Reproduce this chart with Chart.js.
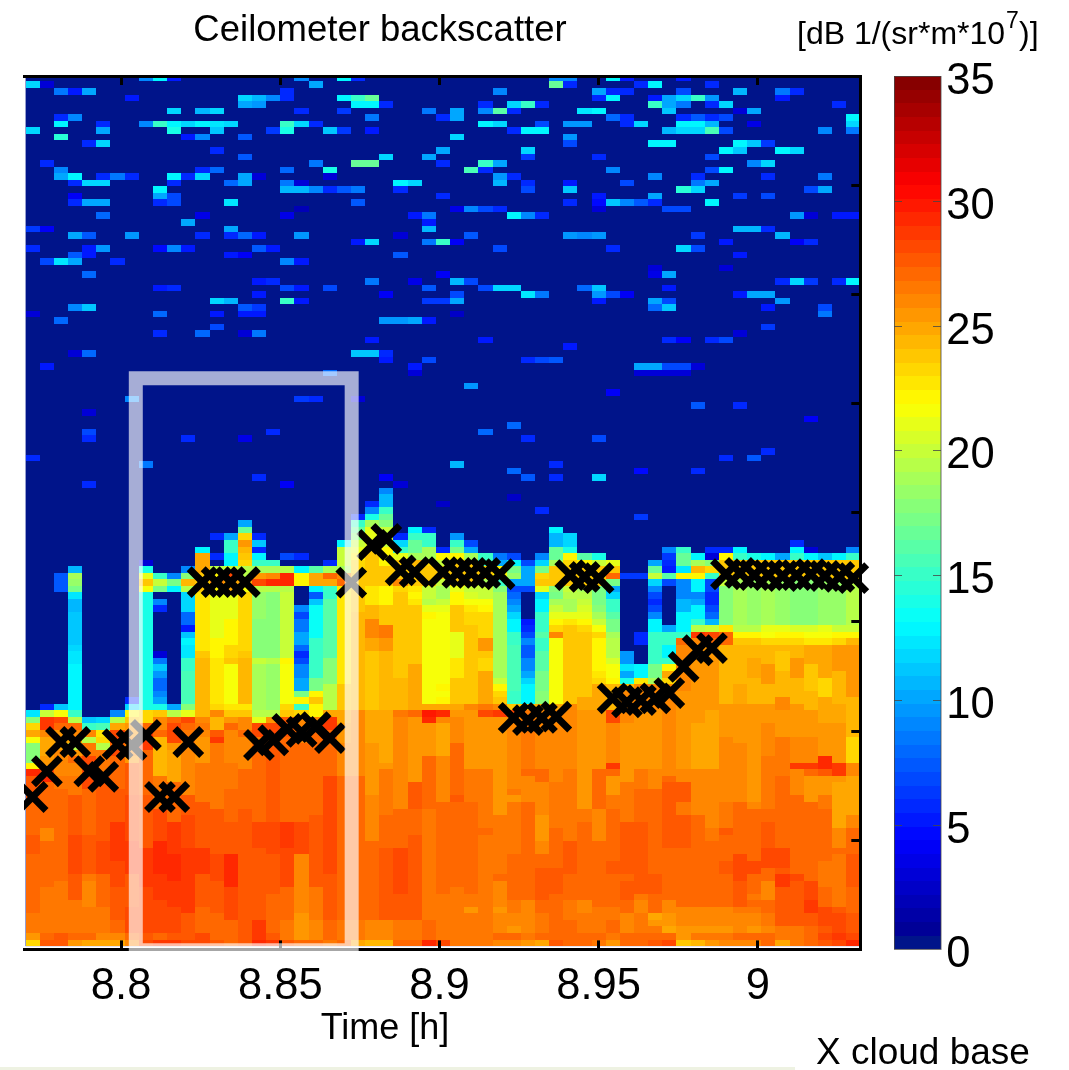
<!DOCTYPE html>
<html>

<head>
    <title>Ceilometer backscatter</title>
    <style>
        body { margin: 0; background: #fff; }
        canvas { display: block; }
    </style>
</head>

<body>
    <canvas id="myChart" width="1069" height="1070"></canvas>
    <script src="https://cdn.jsdelivr.net/npm/chart.js@4"></script>

    <script type="text/javascript">
        // gate / time layout of the ceilometer image
        const firstCellTime = 8.77;
        const cellHours = 16 / 3600;
        const rowMetres = 15;

        const xTickValues = [8.8, 8.85, 8.9, 8.95, 9];
        const xTickLabels = ['8.8', '8.85', '8.9', '8.95', '9'];
        const colorTicks = [0, 5, 10, 15, 20, 25, 30, 35];

        // one list per time column, bottom to top: value, last row it reaches, value, last row ...
        const columnRuns = [
            [23.5,0,25.5,1,26.5,4,27,13,27.5,16,27,21,27.5,25,29,26,22,27,18,30,21.5,31,25,32,23,33,18,34,12.5,35],
            [27.5,0,27,1,26.5,8,27,15,26,17,27,24,29,25,28,26,25.5,28,25,31,26,32,28.5,34,20,35,6,36],
            [27.5,1,26.3,3,26.5,9,27,16,27.3,23,26.5,25,26,29,25,31,25.5,32,27,33,28,34,21.5,35,11,36,0,53,7.5,56],
            [25.5,0,27,1,26.5,6,27.5,10,28,16,27.5,22,26.5,25,26,27,27,28,25.5,29,19.5,30,25,31,26,32,27,33,19.5,34,15,35,13,42,12.5,44,11.5,45,11,50,10.5,52,12.5,53,17,54,18.5,55,19,56,10.5,57],
            [25,0,27,1,26.5,5,26,9,26.5,10,27.5,16,27,23,28,28,26.5,30,19.5,31,26,32,15,33,11,34],
            [25,0,26,1,26.5,5,27,10,28,15,27.5,25,26.5,29,19.5,30,23,31,22.5,32,15.5,33,11.5,34],
            [25,0,26,1,27,3,27.5,8,28,12,28.5,18,27.5,23,27,28,28,29,27,30,28,32,25,33,19.5,34,9,35],
            [26,0,27,1,28,5,27.5,10,28.5,15,28,22,27.5,27,25.5,28,26,31,25.5,33,24,34,22,35,12,36,6,37],
            [28,0,27.5,1,28,8,28.5,14,27.5,22,27,29,28.5,32,27,33,23,35,14,53,21.5,54,24,55,21,56,14,57,3,58],
            [28.5,0,27,1,28,6,28.5,10,29,15,28,20,26.5,25,24.3,31,27,32,26,34,24,35,14,36,10,37,9,38,8,40,9.5,41,11,42,8.5,43,3,44,0,50,6,51,9,52,0,53,17,54,20,55,15,56],
            [28.5,0,27.5,1,28,5,28.5,9,29.5,13,28.5,18,27,24,25,29,25.5,30,28,33,27,34,19.5,35,10,36,0,53,13,54,17,55,9,56],
            [28,0,27.5,4,28.5,14,28,19,27.5,22,26,30,26.5,32,27,33,28,34,21,35,18,36,15.5,41,15,43,12.5,45,13,46,11,47,5,48,8,50,12,52,11.5,53,19.5,54,24.5,55,18,56,9,57],
            [28,1,27,5,27.5,10,28.5,14,27.5,21,26.5,27,25.5,31,26,32,26.5,33,26,34,24.5,43,24,44,22.5,53,24,56,25,59,13,60],
            [27.5,0,27,4,27.5,9,28,13,27.5,20,26.5,30,28.5,31,27.5,32,24.5,34,26,35,23,36,22.5,43,22,46,21,53,22,54,26,55,22,56,19.5,57,0,58,6,59,0,61,6,62],
            [27,3,28,8,29,13,27.5,18,27,23,26.5,27,26,32,27,33,25.5,34,24,35,22.5,36,21.5,42,24,43,23,45,22,49,21,53,25,55,28,56,20,57,13,59,15,61,10,62],
            [27.5,20,27,26,26,31,27,32,26,34,24,35,22.5,36,24.5,43,24,44,23.5,47,23,53,21.5,54,25,55,19.5,57,23,58,24,59,24.5,60,25.5,61,23,62,16.5,63,10,64],
            [29,0,28.5,3,27.5,14,28,18,27,30,26.5,31,28,33,21,34,19.5,35,19,42,20,43,18,49,18.5,53,19.5,54,28,55,25.5,56,19,57,15,58,13,59,6,60,11,61,6,62],
            [28.5,0,27.5,1,27,7,27.5,13,28,18,27.5,30,27,31,28,33,25.5,34,19.5,35,18.5,42,19.5,43,17.5,53,19.5,54,29,55,26,56,19,57,15,58],
            [27.5,0,26.5,3,27,8,28,14,28.5,18,27,31,27.5,34,24,35,23,36,21.5,42,22,43,20,53,19.5,54,29.5,55,29,56,19.5,57,0,58,7,59],
            [27,0,25.5,4,26,13,28,18,27,30,26,31,27,32,26,34,23,35,15,36,22,37,17,38,10,40,9,42,7,43,6,44,8,45,10,47,8.5,49,7,50,9,51,0,54,22,56,13,57],
            [27,0,26,3,26.5,8,27.5,19,27,32,28,33,26,34,22,36,24,37,22,38,17,40,15,46,13.5,51,11,52,7.5,53,13,54,25,56,16,57],
            [26.5,0,27,3,27.5,10,28,25,27,32,28.5,34,25,35,19.5,39,18,43,16,52,15,54,25,55,27,56,19,57,6,58],
            [27,0,26.5,3,27,25,26,30,25.5,33,25,35,24,39,22.5,54,27,55,26,56,19,57,20,60,13,61],
            [25,0,26.5,3,27,25,26,35,24.5,50,24,56,23,58,22,59,21,60,20,61,18,62,16.5,63,15,64,6,65],
            [24.5,0,26,3,27,15,26,22,25.5,30,25,35,24,44,25,46,26,49,24.5,51,22.5,54,24,60,21,63,19,64,14,65,9,66,6,67],
            [24.5,0,26,3,27.5,14,27,19,26.5,26,25.5,27,25,35,24.5,44,25.5,46,26.5,48,24,51,22,54,24,57,22,60,20,63,18,64,16.5,65,15,66,10.5,68,9,69],
            [27,0,26.5,3,27.5,7,28,14,27,20,26,34,26.5,35,24.5,40,24,53,23,54,26,55,24,58,21,59,15,60,11.5,61,6,62],
            [27,0,26.5,3,27.5,16,27,20,27.5,24,25.5,34,27,35,25,42,24,51,22.5,52,22,53,22.5,54,24,57,24.5,58,19,59,16.5,61,15,62,13,63],
            [29,0,27,3,26.5,20,27,28,25.5,33,29.5,34,30,35,25,36,21.8,49,22,50,21,51,19.5,52,20,54,24,57,23,58,19,60,15,62,6,63],
            [28,0,26.5,7,26.8,21,25.8,28,25,33,26,34,29,35,25,36,22,37,21.5,38,22,39,21.7,50,21,51,20,52,19,54,20,55,24,57,20,58,22,59,6,60],
            [26.5,7,26.7,8,27.3,21,27.8,22,27.3,26,27,30,26,34,25.5,35,25,36,24,40,22.5,43,21,47,24,51,22,53,21,54,24,58,22,59,17,60,15,61,9.5,62],
            [26.5,4,25.5,5,26.5,7,27.3,21,26.3,26,25.5,35,26,36,24,48,23.5,50,22.5,51,21.5,52,20.5,53,20,54,24,58,19,59,10,60,7,61],
            [26.4,16,27,17,26.7,19,26.3,26,25.5,34,28,35,26.5,36,25,41,23,43,24,44,25.5,46,23,50,22,51,21.5,52,20,54,19,55,24,57,15,59],
            [26,0,27,1,26.2,4,25.5,5,26.2,9,27,10,26.5,19,25.6,34,28.5,35,26,36,24,37,23,38,22,39,20,40,19,53,18,54,15,55,22,57,10,58,8.5,59],
            [26,0,27,1,25.5,2,26,4,26.5,6,27,13,26.7,21,25.6,22,26.5,23,25.8,26,26,34,28,35,24,36,15,38,15.5,45,15,47,13,49,11.5,50,10,51,9,52,8,53,7,54,10,55,18.5,56,17,57,13,58,7,59],
            [25.5,0,26.5,1,26.2,6,27,12,27.3,16,27,21,25.8,25,27,26,26.5,35,24,36,13,39,11.5,40,10,41,9,43,7.5,45,9,46,7,47,6,48,5,49,0,53,7,54,10,57,7,58],
            [25,0,27,1,26.5,4,27.3,6,27.8,11,27,13,26.2,15,25.3,19,25.8,24,27,26,26,35,25,36,17.5,38,17,41,16,44,15,46,16,47,15,50,13,52,11.5,53,21,54,24,55,23,56,17,57,11.5,58,9,59],
            [27.8,0,27,7,27.8,11,27,14,26.8,17,26.7,24,25.8,26,26,35,25,36,21.8,46,26,47,23.5,48,22,49,21,50,20,51,19,52,17,53,18,54,24,57,19,58,16.5,60,10.5,62,13,63],
            [26.8,0,27,3,26.3,6,27,10,27.8,15,26.5,26,26,36,24,48,22.5,49,21,50,19,52,19.5,53,20,54,24,57,23,58,22,59,14,60,12,62],
            [27,1,26.5,4,26.2,6,26.8,15,27,18,26.5,20,25.5,35,25,37,24,47,23.5,48,22,49,21,50,20.5,51,20,52,19.5,53,19,54,24,57,22,58,16,59],
            [26.3,0,27,1,26.5,5,27,6,26.8,15,25.9,20,26.8,26,25.5,35,25,39,23,40,22.5,41,22,46,23,47,21.5,48,20,49,19,50,18,51,17,54,24,57,20,58,14,59],
            [25.5,0,26.5,1,27,3,26.3,5,26.9,10,27.5,12,27,20,26.5,22,25.7,25,26.8,26,28.5,27,26,33,28,35,24.5,39,22,40,21.5,42,20.5,43,19.5,46,19,47,17,49,16,50,15,52,11.5,53,10,54,17,55,27,56,24,57,21,58],
            [27.3,0,26.8,1,26.2,4,27,6,27.7,7,27.5,9,27,10,27.7,18,26.7,24,25.7,26,25.5,33,26,38,24.5,39,14,40,10,41,12.5,42,9.5,44,0,55,6.5,56],
            [27,1,26.3,4,25.8,6,26.5,7,27.5,9,27.7,18,27,23,26.5,26,25.5,35,26,39,22.5,40,13,42,0,45,6,47,0,55,6.5,56],
            [27.5,0,27,1,26.5,2,25.5,3,25,4,26.8,7,27.6,10,26.8,23,26,26,25.5,35,26,39,19,40,17,42,15,47,13,49,9,50,7,51,6,52,7,53,9,54,12,55,20,56,16.5,57,10,58],
            [28,0,27,1,25,2,25.5,4,26,6,26.8,14,27.5,24,27,25,26,39,23,40,25,41,22,42,15,43,13,45,15,47,10,48,0,54,7,55,16,56,5,57,6,58,6.5,59,9,60],
            [24,0,25.6,1,25.3,2,26,5,26.8,14,27.5,19,26.7,21,27.5,24,26,26,25.5,38,26,45,27,46,15,47,13,50,10.5,52,9,55,22,56,12.5,57,16.5,59,15,60],
            [24.5,0,26.4,1,25.5,2,26.1,5,26.8,10,27.2,15,26.8,19,25.8,26,25,33,25.5,45,26,46,28.5,47,19.5,48,15,49,13,51,10,52,9,53,13,55,22,56,24.5,57,19,58,13,59],
            [25.5,0,26.4,1,25.5,2,26.1,5,26.8,10,27.2,15,26.7,17,26,26,25,35,25.3,45,27,46,28,47,20,48,10.5,49,8,50,7,51,6,53,7,55,15,56,23,57,18,58,3,59,6,60],
            [26,0,26.5,1,25.6,2,26.2,5,26.8,8,27.3,10,27.8,12,27.2,16,27.5,17,26.7,21,26,31,25.5,36,24.6,44,24.2,45,27,47,22.5,48,18,54,20,55,24,58,22,59,6,60],
            [26,0,27,1,26,2,26.2,4,26.7,5,27.4,9,28.2,13,27.3,16,27,21,26.2,30,25.5,36,25,39,24.6,43,24.2,45,24,46,22,47,19.5,48,19,55,24,58,15,59,13,60],
            [26,0,27,1,25.7,2,26.2,4,26.7,5,27.3,6,26.6,7,27.3,10,28,12,27.3,16,26.8,20,26.2,21,25.6,31,25.3,36,24.3,40,25,43,24.3,45,24,46,22,47,19.5,48,18.5,55,24,58,14,59],
            [27,1,26,2,26.7,4,27.3,6,26.2,9,27,11,28,14,27.5,18,27,20,26.3,28,26,33,25.5,36,24.6,39,25.3,42,24.2,45,23,46,21.5,47,21,48,19,55,24,58,13,59],
            [25,0,26.5,2,27.5,8,28.5,10,27.8,11,28.3,14,27.3,16,27,25,26.5,31,25.5,35,26,37,24.2,41,23.8,44,24.5,45,23,46,22,47,21,48,18.5,55,24,58,10,59],
            [26.7,1,26.5,2,27.5,9,28.3,10,27.3,15,26.8,22,26.2,26,28.5,27,26,31,25.2,36,24.4,40,25.3,43,24.6,45,23,46,22,47,20.5,48,17.5,55,24,58,15,59,13,60,6,61],
            [27,2,27.5,4,28.5,6,28,9,27.3,13,26.8,21,25.7,25,27.3,26,28.5,27,26,31,25.3,35,24.5,38,23.8,42,24.7,45,22.5,46,21.5,47,20.5,48,18,55,24,58,13,59,3,60],
            [27.7,0,28,1,27.7,2,28.3,5,27.3,8,26.5,12,27,14,26.8,20,26.3,22,25.7,25,27.5,26,29,28,25.7,33,24.8,37,23.5,40,24.8,45,22.5,46,21.5,47,21,48,18.5,55,24,58,11,59],
            [28,0,28.5,1,28.3,4,27.8,5,26.7,13,27,14,26,17,25,24,25.7,25,28.5,27,25.5,33,25,36,24.6,41,25.5,45,23.5,46,22,47,20,48,18.5,55,24,58,13,59],
            [29,0,28.3,1,27.5,4,27,8,27.7,13,27,17,26,19,25,25,26,27,23.5,31,24.2,37,25.3,45,24.5,46,22,47,20,48,19.5,55,24,58,15,59,9,60]
        ];

        // speckle above the boundary layer: row, then column, value, column, value ...
        const noiseRows = [
            [132, 8,9, 9,13, 10,5, 19,9, 22,13, 23,6, 37,9, 38,9, 41,13, 42,5, 46,5],
            [131, 0,11.5, 1,3, 20,10, 37,16.5, 38,6, 43,6, 44,13, 48,6],
            [130, 2,8.5, 3,5, 4,10, 18,6, 33,9, 40,10, 41,6, 42,6, 46,7, 50,10.5, 53,8.5, 54,6],
            [129, 7,5, 15,11.5, 16,10.5, 17,9, 18,6, 22,13, 23,15, 24,16.5, 40,6, 41,13, 44,5, 45,10, 46,11.5, 47,15, 48,9.5, 53,5],
            [128, 15,10, 16,9.5, 23,13, 24,13, 25,6, 32,6, 34,11.5, 35,15, 36,6, 44,15, 45,10, 46,8.5, 48,6, 49,11.5, 57,5.5],
            [127, 10,11.5, 12,10.5, 13,12, 19,6, 22,6.5, 28,8.5, 30,10, 32,9, 33,16, 34,6, 39,12.5, 40,13, 45,11, 50,3, 51,10],
            [126, 2,6, 3,9, 24,8.5, 29,6, 30,10, 41,8, 42,6, 46,6, 47,7.5, 48,6, 49,7, 58,13],
            [125, 2,13, 5,6, 8,9, 9,15, 10,13, 11,12, 12,13, 13,12.5, 14,12, 18,15, 19,11.5, 20,5.5, 32,13, 33,11.5, 36,7, 38,9.5, 39,9.5, 42,6, 43,11.5, 46,13, 47,13, 48,10.5, 51,3.5, 58,11.5],
            [124, 0,12, 5,10, 10,14, 13,11, 17,6.5, 18,14, 21,11, 22,6.5, 24,5, 34,6, 35,13, 36,13, 45,10.5, 46,11.5, 47,12, 48,15.5, 49,7, 56,9, 58,8.5],
            [123, 2,14.5, 11,5, 12,9, 15,7.5, 30,11.5, 38,9.5],
            [122, 4,6, 5,12, 38,7, 44,13, 45,13, 50,13, 51,11, 52,6.5],
            [121, 13,5.5, 29,10, 35,12, 49,13, 50,11, 53,13, 54,12],
            [120, 15,7.5, 25,12, 28,10, 35,6.5, 40,5.5, 48,7],
            [119, 1,6, 20,8.5, 23,16.5, 24,16.5, 29,6, 32,15, 33,10, 51,9, 52,11.5],
            [118, 2,9, 12,6, 13,8, 18,8, 21,14, 31,15.5, 32,6, 41,9, 48,7, 49,13],
            [117, 2,10, 3,13, 5,6, 6,8.5, 7,5.5, 10,13, 11,5.5, 12,11.5, 15,10, 16,3, 21,3, 33,9.5, 34,5.5, 44,9, 47,5.5, 52,5.5, 56,8.5],
            [116, 3,6, 4,11.5, 5,11.5, 10,5.5, 14,8, 15,10, 18,8.5, 19,3, 26,13, 27,12, 33,10.5, 35,5.5, 38,5, 42,7, 47,8.5, 48,10],
            [115, 9,13, 18,10.5, 19,10.5, 20,9, 21,5.5, 22,7.5, 23,8.5, 26,5.5, 35,7, 38,11, 46,14.5, 47,11.5, 55,7, 56,10],
            [114, 3,4, 9,10, 10,7, 29,5.5, 40,5, 44,10, 50,6.5, 52,7],
            [113, 3,5.5, 4,10, 5,10, 9,5.5, 10,7, 14,12.5, 23,7.5, 38,5.5, 40,4.5, 41,11, 42,9, 43,7.5, 44,5.5, 48,13],
            [112, 19,2, 30,3.5, 31,9, 32,7, 33,6, 40,3, 45,7, 46,7],
            [111, 5,8, 12,3.5, 18,3.5, 27,5, 28,8.5, 34,13, 35,9, 36,5.5, 54,9.5, 55,3, 57,5, 58,5],
            [110, 11,10, 28,5],
            [109, 0,6.5, 1,4, 14,10, 28,10.5, 50,10.5, 51,10.5, 52,5.5],
            [108, 3,10, 4,7.5, 7,9.5, 12,5.5, 14,6, 15,8, 16,5, 19,9.5, 26,3, 31,7.5, 38,9.5, 39,9, 40,9.5, 47,6.5, 53,10.5],
            [107, 23,5, 24,11.5, 28,8.5, 29,15, 30,4, 49,5, 54,4, 55,5.5],
            [106, 0,6, 4,5, 5,9.5, 9,4.5, 10,9, 11,5, 16,7.5, 17,5, 33,7, 41,5.5, 46,11.5, 47,7],
            [105, 3,7.5, 4,5, 14,5, 15,4, 26,7.5, 50,5],
            [104, 1,7, 2,12.5, 3,10, 6,5.5, 18,9, 19,5],
            [103, 44,3, 49,3],
            [102, 4,8, 29,4, 44,3.5, 45,10],
            [101, 16,5, 17,6, 24,8.5, 27,3.5, 30,10.5, 31,7, 53,5.5, 54,11.5, 55,6.5, 57,5.5, 58,13],
            [100, 9,5, 10,6, 18,7, 19,5, 21,7, 28,7.5, 32,7, 33,12, 34,11.5, 39,8, 40,11, 45,5],
            [99, 16,5, 25,4, 30,7, 35,12.5, 36,8.5, 40,9.5, 41,7, 42,4, 50,5, 51,10, 52,10],
            [98, 13,11.5, 14,10.5, 18,15, 19,5, 28,6.5, 29,6.5, 30,10, 40,5, 44,10, 45,7, 53,9.5],
            [97, 3,9, 4,11, 15,7.5, 16,6.5, 44,8, 45,11, 52,5, 56,7],
            [96, 0,3, 9,8, 13,5, 15,5, 16,5, 30,2.5, 56,8.5],
            [95, 2,8, 25,9.5, 26,9.5, 27,10, 28,5],
            [94, 13,7, 52,6.5],
            [93, 9,5.5, 12,8, 15,3, 16,8.5, 50,3],
            [92, 24,5, 32,5, 45,6, 46,4, 48,6, 49,7],
            [91, 38,5],
            [90, 3,3, 4,8, 23,11, 24,11, 25,5.5],
            [89, 25,5, 28,7, 35,5.5, 36,7, 37,7.5],
            [88, 1,5, 27,5, 43,10, 44,10, 45,7, 46,7, 47,3],
            [87, 21,8, 27,3, 43,3, 44,3, 45,3, 46,3],
            [85, 31,9.5],
            [84, 41,4],
            [83, 7,9, 19,6.5, 20,6, 23,3],
            [82, 47,7.5, 50,6],
            [81, 4,3],
            [80, 55,4],
            [79, 34,8],
            [78, 4,7, 17,5.5, 32,8],
            [77, 4,5.5, 11,5.5, 15,3.5, 35,6, 40,7],
            [75, 52,5.5],
            [74, 0,5.5, 49,5.5, 51,7.5],
            [73, 8,8.5, 30,10.5, 37,5.5],
            [72, 34,8, 43,4.5, 47,5.5],
            [71, 16,5.5, 25,4, 35,7.5, 37,5.5, 40,12],
            [70, 4,5.5, 18,4, 26,3],
            [68, 34,2.5],
            [67, 29,2.5],
            [66, 36,6],
            [65, 43,6.5],
            [59, 19,6]
        ];

        // cloud base detections
        const cloudBaseTimes = [8.7722, 8.7767, 8.7811, 8.7856, 8.79, 8.7944, 8.7989, 8.8033, 8.8078, 8.8122, 8.8167, 8.8211,
            8.8256, 8.83, 8.8344, 8.8389, 8.8433, 8.8478, 8.8522, 8.8567, 8.8611, 8.8656, 8.8723, 8.8789, 8.8833, 8.8878, 8.8922,
            8.9011, 8.9056, 8.91, 8.9144, 8.9189, 8.9233, 8.9278, 8.9322, 8.9367, 8.9411, 8.9456, 8.95, 8.9544, 8.9589, 8.9633,
            8.9678, 8.9722, 8.9767, 8.9811, 8.9856, 8.99, 8.9944, 8.9989, 9.0033, 9.0078, 9.0122, 9.0167, 9.0211, 9.0256, 9.03];
        const cloudBaseHeights = [349, 408, 475, 475, 408, 395, 470, 468, 491, 349, 349, 475,
            841, 841, 841, 841, 468, 479, 505, 498, 509, 484, 840, 926, 940, 868, 864,
            864, 862, 862, 862, 859, 530, 525, 530, 533, 857, 853, 850, 575, 566, 571,
            575, 587, 647, 685, 690, 859, 862, 857, 857, 855, 857, 859, 855, 853, 850];

        // the highlighted period: corners of the pale box
        const boxTimes = [8.80462, 8.87243, 8.87243, 8.80462, 8.80462];
        const boxHeights = [1308, 1308, -2, -2, 1308];

        const cells = [];
        columnRuns.forEach(function(runs, col) {
            let row = 0;
            for (let i = 0; i < runs.length; i += 2) {
                for (; row <= runs[i + 1]; row++) {
                    if (runs[i] > 0) cells.push({ x: firstCellTime + (col + 0.5) * cellHours, y: (row + 1) * rowMetres, v: runs[i] });
                }
            }
        });
        noiseRows.forEach(function(r) {
            for (let i = 1; i < r.length; i += 2) {
                cells.push({ x: firstCellTime + (r[i] + 0.5) * cellHours, y: (r[0] + 1) * rowMetres, v: r[i + 1] });
            }
        });

        function clamp(a) {
            return Math.round(255 * Math.max(0, Math.min(1, a)));
        }

        // matlab jet, 64 levels over 0..35
        function jetColor(v) {
            const level = Math.min(63, Math.floor(v / 35 * 64));
            if (level === 0) return 'rgb(0,20,138)';
            const t = (level + 0.5) / 64;
            return 'rgb(' + clamp(1.5 - Math.abs(4 * t - 3)) + ',' + clamp(1.5 - Math.abs(4 * t - 2)) + ',' + clamp(1.5 - Math.abs(4 * t - 1)) + ')';
        }

        const heatmapPlugin = {
            id: 'heatmap',
            beforeDraw: function(chart) {
                const ctx = chart.ctx;
                const x = chart.scales.x;
                const y = chart.scales.y;
                const area = chart.chartArea;
                ctx.save();
                ctx.beginPath();
                ctx.rect(area.left, area.top, area.right - area.left, area.bottom - area.top);
                ctx.clip();
                ctx.fillStyle = jetColor(0);
                ctx.fillRect(x.getPixelForValue(firstCellTime), area.top, area.right, y.getPixelForValue(rowMetres / 2) - area.top);
                chart.data.datasets[2].data.forEach(function(c) {
                    const left = Math.round(x.getPixelForValue(c.x - cellHours / 2));
                    const right = Math.round(x.getPixelForValue(c.x + cellHours / 2));
                    const top = Math.round(y.getPixelForValue(c.y + rowMetres / 2));
                    const bottom = Math.round(y.getPixelForValue(c.y - rowMetres / 2));
                    ctx.fillStyle = jetColor(c.v);
                    ctx.fillRect(left, top, right - left, bottom - top);
                });
                ctx.restore();

                // colour bar, on the same value scale as its axis
                const cb = chart.scales.cb;
                for (let i = 0; i < 64; i++) {
                    const v0 = i * 35 / 64;
                    const v1 = (i + 1) * 35 / 64;
                    const top = Math.round(cb.getPixelForValue(v1));
                    const bottom = Math.round(cb.getPixelForValue(v0));
                    ctx.fillStyle = jetColor((v0 + v1) / 2);
                    ctx.fillRect(894, top, 47, bottom - top);
                }
                ctx.strokeStyle = 'rgba(70,70,70,0.8)';
                ctx.lineWidth = 1;
                ctx.strokeRect(894.5, cb.top + 0.5, 46.5, cb.bottom - cb.top - 0.5);
                colorTicks.slice(1, -1).forEach(function(v) {
                    const p = Math.round(cb.getPixelForValue(v)) + 0.5;
                    ctx.beginPath();
                    ctx.moveTo(894, p);
                    ctx.lineTo(902, p);
                    ctx.moveTo(933, p);
                    ctx.lineTo(941, p);
                    ctx.stroke();
                });
            },
            afterDraw: function(chart) {
                const ctx = chart.ctx;
                ctx.save();
                ctx.fillStyle = '#000';
                ctx.textBaseline = 'alphabetic';
                ctx.textAlign = 'center';
                ctx.font = '36.5px "Liberation Sans"';
                ctx.fillText('Ceilometer backscatter', 380, 41);
                ctx.font = '36px "Liberation Sans"';
                ctx.fillText('Time [h]', 385, 1039);
                ctx.textAlign = 'left';
                ctx.font = '37px "Liberation Sans"';
                ctx.fillText('X cloud base', 816, 1064);
                ctx.font = '32px "Liberation Sans"';
                ctx.fillText('[dB 1/(sr*m*10', 797, 44);
                const w = ctx.measureText('[dB 1/(sr*m*10').width;
                ctx.fillText(')]', 797 + w + 14, 44);
                ctx.font = '23px "Liberation Sans"';
                ctx.fillText('7', 797 + w + 1, 28);
                ctx.fillStyle = '#eef2e2';
                ctx.fillRect(0, 1067, 795, 3);
                ctx.restore();
            }
        };

        function sameTicks(axis) {
            axis.ticks = xTickValues.map(function(v) { return { value: v }; });
        }

        function innerGrid(len) {
            return { drawOnChartArea: false, drawTicks: true, tickLength: -len, tickColor: '#000', tickWidth: 3 };
        }

        // axis boxes are given exact sizes, no label padding on top of that
        function fixedHeight(h) {
            return function(s) {
                s.height = h;
                s.paddingLeft = 0;
                s.paddingRight = 0;
            };
        }

        function fixedWidth(w) {
            return function(s) {
                s.width = w;
                s.paddingTop = 0;
                s.paddingBottom = 0;
            };
        }

        const ctx = document.getElementById('myChart').getContext('2d');
        const chart = new Chart(ctx, {
            type: 'scatter',
            plugins: [heatmapPlugin],
            data: {
                datasets: [{
                    type: 'line',
                    label: 'period',
                    data: boxTimes.map(function(t, i) { return { x: t, y: boxHeights[i] }; }),
                    borderColor: 'rgba(255,255,255,0.65)',
                    borderWidth: 14,
                    borderJoinStyle: 'miter',
                    borderCapStyle: 'square',
                    pointRadius: 0,
                    tension: 0,
                    fill: false,
                    order: 0,
                    clip: { left: false, top: false, right: false, bottom: 2.2 }
                }, {
                    label: 'X cloud base',
                    data: cloudBaseTimes.map(function(t, i) { return { x: t, y: cloudBaseHeights[i] }; }),
                    pointStyle: 'crossRot',
                    pointRadius: 19,
                    pointBorderWidth: 7,
                    pointBorderColor: '#000',
                    pointBackgroundColor: '#000',
                    order: 1,
                    clip: { left: 0, top: false, right: false, bottom: false }
                }, {
                    label: 'backscatter',
                    data: cells,
                    pointRadius: 0,
                    order: 2
                }]
            },
            options: {
                responsive: false,
                animation: false,
                events: [],
                layout: { autoPadding: false, padding: { left: 24, right: 0, top: 0, bottom: 0 } },
                plugins: { legend: { display: false }, tooltip: { enabled: false } },
                scales: {
                    x: {
                        type: 'linear',
                        position: 'bottom',
                        min: 8.7695,
                        max: 9.0322,
                        afterBuildTicks: sameTicks,
                        afterFit: fixedHeight(120.6),
                        border: { color: '#000', width: 3 },
                        grid: innerGrid(9),
                        ticks: {
                            autoSkip: false,
                            maxRotation: 0,
                            padding: 20,
                            color: '#000',
                            font: { family: 'Liberation Sans', size: 43.5 },
                            callback: function(v) { return xTickLabels[xTickValues.indexOf(v)]; }
                        }
                    },
                    xTop: {
                        type: 'linear',
                        position: 'top',
                        min: 8.7695,
                        max: 9.0322,
                        afterBuildTicks: sameTicks,
                        afterFit: fixedHeight(76),
                        border: { color: '#000', width: 3 },
                        grid: innerGrid(9),
                        ticks: { display: false }
                    },
                    y: {
                        type: 'linear',
                        position: 'right',
                        min: 0,
                        max: 2000,
                        afterFit: fixedWidth(0),
                        border: { color: '#000', width: 3 },
                        grid: innerGrid(9),
                        ticks: { display: false, stepSize: 250 }
                    },
                    cb: {
                        type: 'linear',
                        position: 'right',
                        min: 0,
                        max: 35,
                        afterBuildTicks: function(axis) {
                            axis.ticks = colorTicks.map(function(v) { return { value: v }; });
                        },
                        afterFit: fixedWidth(208.7),
                        border: { display: false },
                        grid: { display: false, drawTicks: false },
                        ticks: {
                            padding: 86,
                            labelOffset: 6,
                            color: '#000',
                            font: { family: 'Liberation Sans', size: 43.5 }
                        }
                    }
                }
            }
        });
    </script>
</body>

</html>
